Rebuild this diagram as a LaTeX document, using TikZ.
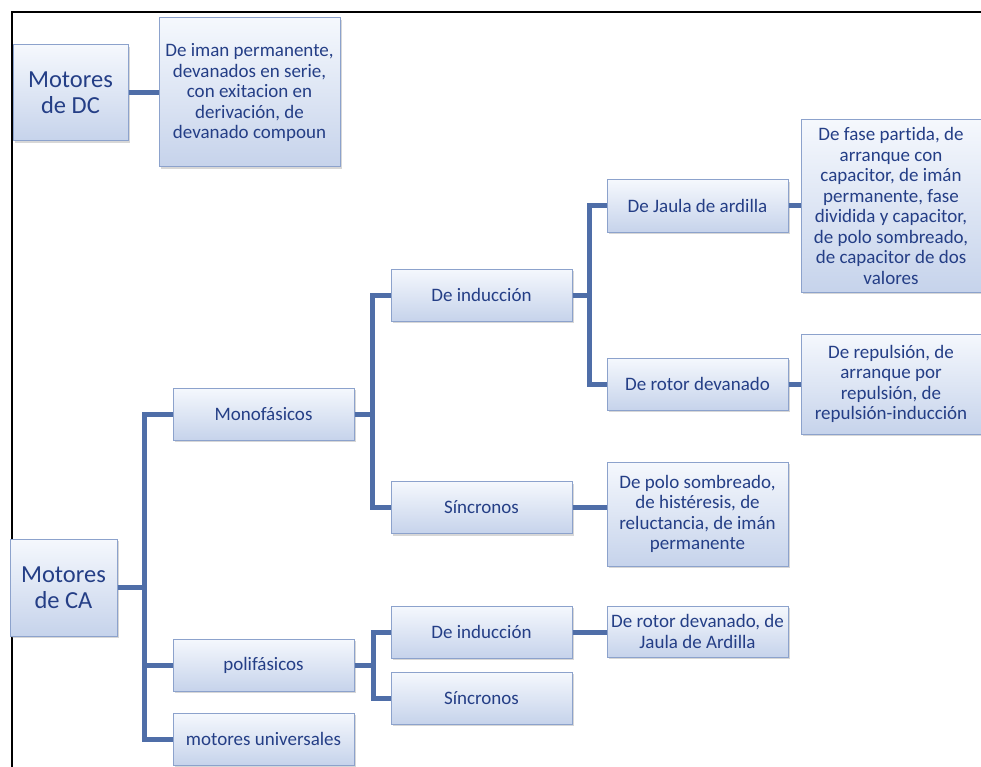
\documentclass[tikz,border=0pt]{standalone}
\usepackage{fontspec}
\setmainfont[Ligatures={NoCommon}]{Carlito}
\usetikzlibrary{shadows}
\definecolor{conncol}{RGB}{79,110,168}
\definecolor{txtcol}{RGB}{36,62,134}
\definecolor{bordcol}{RGB}{140,162,204}
\definecolor{topcol}{RGB}{245,248,253}
\definecolor{botcol}{RGB}{198,211,235}
\tikzset{
  box/.style={draw=bordcol, line width=1pt, rectangle, top color=topcol, bottom color=botcol,
    text=txtcol, align=center, inner sep=2pt,
    font=\fontsize{19}{20.5}\selectfont,
    drop shadow={shadow xshift=1.5pt, shadow yshift=-2pt, fill=black!45, opacity=0.35}},
  bigbox/.style={box, font=\fontsize{24.5}{26}\selectfont},
  conn/.style={draw=conncol, line width=5pt},
}
\begin{document}
\begin{tikzpicture}[x=1pt,y=-1pt]
\useasboundingbox (0,0) rectangle (981,767);
% frame
\draw[line width=2.5pt] (12,767) -- (12,12) -- (981,12);
% DC
\node[bigbox, minimum width=115pt, minimum height=96pt] (dc) at (70.5,93) {Motores\\de DC};
\node[box, minimum width=181pt, minimum height=149pt] (dcd) at (249.5,92.5) {De iman permanente,\\devanados en serie,\\con exitacion en\\derivación, de\\devanado compoun};
% CA
\node[bigbox, minimum width=107pt, minimum height=97pt] (ca) at (63.5,587.5) {Motores\\de CA};
\node[box, minimum width=181pt, minimum height=52pt] (mono) at (263.5,414) {Monofásicos};
\node[box, minimum width=181pt, minimum height=52pt] (poli) at (263.5,665) {polifásicos};
\node[box, minimum width=181pt, minimum height=52pt] (univ) at (263.5,739) {motores universales};
\node[box, minimum width=181pt, minimum height=52pt] (ind1) at (481.5,295) {De inducción};
\node[box, minimum width=181pt, minimum height=52pt] (sinc1) at (481.5,507.5) {Síncronos};
\node[box, minimum width=181pt, minimum height=52pt] (ind2) at (481.5,632) {De inducción};
\node[box, minimum width=181pt, minimum height=52pt] (sinc2) at (481.5,698) {Síncronos};
\node[box, minimum width=181pt, minimum height=52pt] (jaula) at (697.5,206) {De Jaula de ardilla};
\node[box, minimum width=181pt, minimum height=52pt] (rotor) at (697.5,384) {De rotor devanado};
\node[box, minimum width=181pt, minimum height=104pt] (sincd) at (697.5,514) {De polo sombreado,\\de histéresis, de\\reluctancia, de imán\\permanente};
\node[box, minimum width=181pt, minimum height=51pt] (ind2d) at (697.5,631.5) {De rotor devanado, de\\Jaula de Ardilla};
\node[box, minimum width=180pt, minimum height=172pt] (jaulad) at (891,206) {De fase partida, de\\arranque con\\capacitor, de imán\\permanente, fase\\dividida y capacitor,\\de polo sombreado,\\de capacitor de dos\\valores};
\node[box, minimum width=180pt, minimum height=100pt] (rotord) at (891,384) {De repulsión, de\\arranque por\\repulsión, de\\repulsión-inducción};
% trunk coordinates
\coordinate (tA) at (144,587.5);
\coordinate (tB) at (372,414);
\coordinate (tC) at (589,295);
\coordinate (tD) at (373,665);
% connectors
\draw[conn] (dc.east) -- (dc.east -| dcd.west);
\draw[conn] (ca.east) -- (tA);
\draw[conn] (mono.west) -| (tA) |- (univ.west);
\draw[conn] (tA) |- (poli.west);
\draw[conn] (mono.east) -- (tB);
\draw[conn] (ind1.west) -| (tB) |- (sinc1.west);
\draw[conn] (ind1.east) -- (tC);
\draw[conn] (jaula.west) -| (tC) |- (rotor.west);
\draw[conn] (poli.east) -- (tD);
\draw[conn] (ind2.west) -| (tD) |- (sinc2.west);
\draw[conn] (jaula.east) -- (jaulad.west);
\draw[conn] (rotor.east) -- (rotord.west);
\draw[conn] (sinc1.east) -- (sinc1.east -| sincd.west);
\draw[conn] (ind2.east) -- (ind2.east -| ind2d.west);
\end{tikzpicture}
\end{document}
